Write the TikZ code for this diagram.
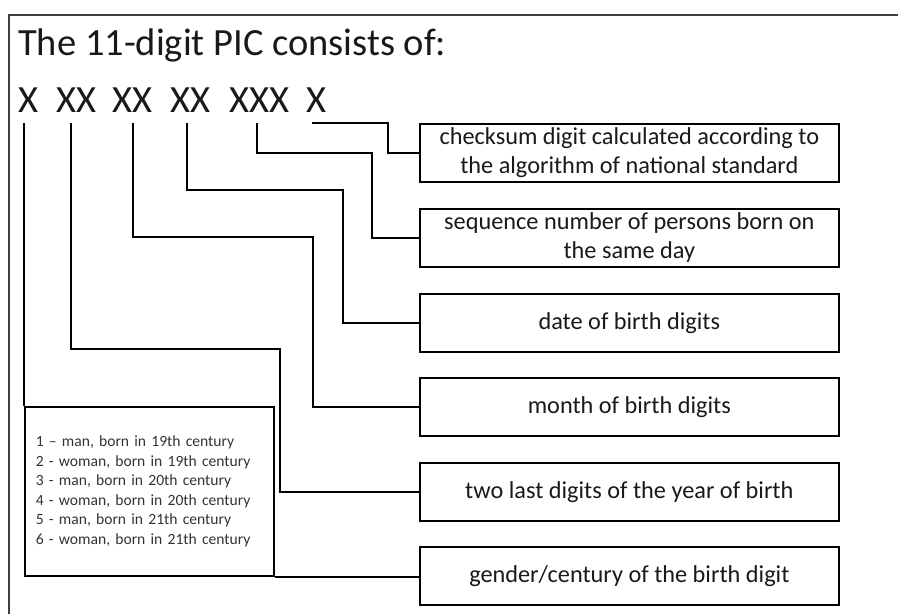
\documentclass[tikz,border=0pt]{standalone}
\usepackage{fontspec}
\setmainfont{Carlito}
\begin{document}
\begin{tikzpicture}[x=1pt,y=-1pt,
  frame/.style={line width=1.4pt, draw=black!75},
  desc/.style={draw, line width=1.7pt, minimum width=419pt, minimum height=58pt,
    anchor=north west, inner sep=0pt, align=center, text=black!90,
    font=\fontsize{24.3}{29}\selectfont},
  link/.style={line width=1.7pt},
  big/.style={inner sep=0pt, anchor=base west, text=black!90, font=\fontsize{38.5}{44}\selectfont},
  legendbox/.style={draw, line width=1.7pt, anchor=north west, minimum height=169pt,
    text width=227pt, inner xsep=11pt, inner ysep=0pt, align=left, text=black!80,
    font=\fontsize{15.6}{19.6}\selectfont}
]
\useasboundingbox (0,0) rectangle (898,614);
% outer frame
\draw[frame] (9,614) -- (9,15) -- (898,15);
% title and digit groups
\node[big] (title) at (18,55) {The 11-digit PIC consists of:};
\node[big] (g1) at (18,112) {X};
\node[big] (g2) at (56,112) {XX};
\node[big] (g3) at (112,112) {XX};
\node[big] (g4) at (170,112) {XX};
\node[big] (g5) at (229,112) {XXX};
\node[big] (g6) at (306,112) {X};
% connector start points under the groups
\coordinate (t1) at (24,123);
\coordinate (t2) at (71,123);
\coordinate (t3) at (133,123);
\coordinate (t4) at (187,123);
\coordinate (t5) at (257,123);
\coordinate (t6) at (312,123);
% bend points
\coordinate (b2) at (280,349);
\coordinate (b3) at (313,237);
\coordinate (b4) at (343,190);
\coordinate (b5) at (372,153);
\coordinate (b6) at (388,123);
% description boxes
\node[desc] (d1) at (419,123) {checksum digit calculated according to\\the algorithm of national standard};
\node[desc] (d2) at (419,208) {sequence number of persons born on\\the same day};
\node[desc] (d3) at (419,293) {date of birth digits};
\node[desc] (d4) at (419,377) {month of birth digits};
\node[desc] (d5) at (419,462) {two last digits of the year of birth};
\node[desc] (d6) at (419,546) {gender/century of the birth digit};
% legend box
\node[legendbox] (legend) at (24,406) {1 -- man, born in 19th century\\
2 - woman, born in 19th century\\
3 - man, born in 20th century\\
4 - woman, born in 20th century\\
5 - man, born in 21th century\\
6 - woman, born in 21th century};
% connectors
\draw[link] (t6) -- (b6) |- (d1.west);
\draw[link] (t5) |- (b5) |- (d2.west);
\draw[link] (t4) |- (b4) |- (d3.west);
\draw[link] (t3) |- (b3) |- (d4.west);
\draw[link] (t2) |- (b2) |- (d5.west);
\draw[link] (t1) -- (legend.north west);
\draw[link] (legend.south east) -- (d6.west |- legend.south east);
\end{tikzpicture}
\end{document}
